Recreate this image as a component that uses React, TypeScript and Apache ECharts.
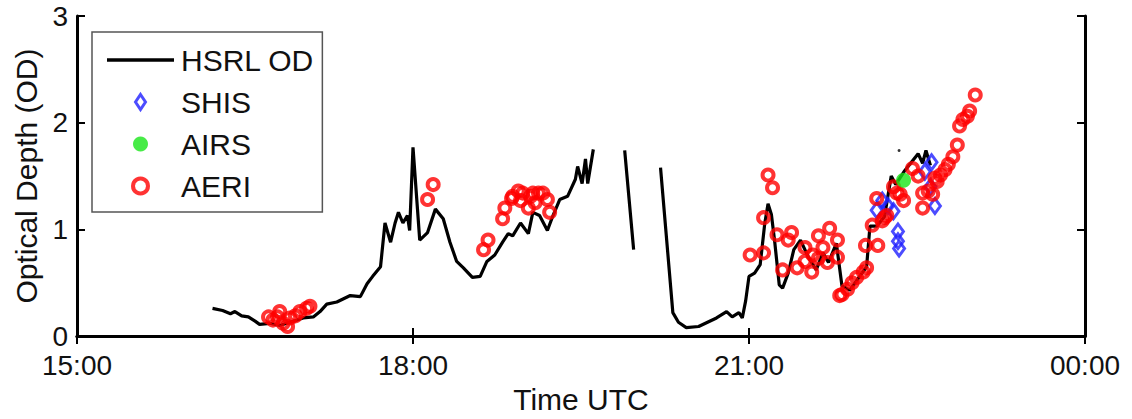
import React, { useEffect, useRef } from "react";
import * as echarts from "echarts";

// Time in decimal hours UTC, optical depth
const hsrlSeg1: [number, number][] = [
  [16.21, 0.26], [16.3, 0.24], [16.37, 0.21], [16.41, 0.23], [16.47, 0.19], [16.53, 0.18],
  [16.59, 0.14], [16.63, 0.11], [16.72, 0.12], [16.81, 0.10], [16.93, 0.14], [17.02, 0.17],
  [17.11, 0.18], [17.17, 0.23], [17.23, 0.30], [17.32, 0.32], [17.38, 0.35], [17.44, 0.38],
  [17.53, 0.37], [17.59, 0.49], [17.64, 0.56], [17.71, 0.65], [17.75, 1.06], [17.8, 0.88],
  [17.84, 1.06], [17.87, 1.16], [17.91, 1.06], [17.95, 1.13], [17.97, 0.99], [18.0, 1.77],
  [18.04, 1.19], [18.06, 0.90], [18.13, 0.97], [18.2, 1.19], [18.27, 1.10], [18.33, 0.88],
  [18.39, 0.70], [18.45, 0.64], [18.53, 0.55], [18.6, 0.56], [18.66, 0.70], [18.73, 0.76],
  [18.8, 0.88], [18.85, 0.96], [18.89, 0.94], [18.96, 1.06], [19.03, 0.96], [19.07, 1.16],
  [19.13, 1.13], [19.2, 0.99], [19.25, 1.13], [19.31, 1.28], [19.38, 1.31], [19.45, 1.47],
  [19.47, 1.59], [19.51, 1.43], [19.54, 1.66], [19.56, 1.43], [19.61, 1.75],
];
const hsrlSeg2: [number, number][] = [
  [19.89, 1.74], [19.97, 0.81],
];
const hsrlSeg3: [number, number][] = [
  [20.21, 1.58], [20.32, 0.22], [20.37, 0.13], [20.44, 0.08], [20.55, 0.09], [20.63, 0.13],
  [20.71, 0.17], [20.8, 0.23], [20.85, 0.18], [20.91, 0.22], [20.94, 0.17], [20.97, 0.33],
  [21.0, 0.56], [21.05, 0.59], [21.1, 0.67], [21.14, 1.05], [21.17, 1.24], [21.2, 1.14],
  [21.23, 0.88], [21.27, 0.48], [21.3, 0.45], [21.35, 0.59], [21.4, 0.81], [21.46, 0.90],
  [21.53, 0.74], [21.6, 0.62], [21.66, 0.78], [21.71, 0.69], [21.78, 0.87], [21.83, 0.47],
  [21.9, 0.43], [22.05, 0.65], [22.08, 1.03], [22.14, 1.03], [22.21, 1.12], [22.27, 1.50],
  [22.31, 1.42], [22.39, 1.55], [22.51, 1.71], [22.55, 1.62], [22.58, 1.74], [22.62, 1.60],
];
const hsrlDot: [number, number][] = [[22.34, 1.74]];
const shis: [number, number][] = [
  [22.14, 1.18], [22.19, 1.27], [22.24, 1.22], [22.29, 1.17], [22.33, 0.98], [22.33, 0.89],
  [22.34, 0.82], [22.57, 1.54], [22.63, 1.63], [22.66, 1.22], [22.62, 1.40],
];
const airs: [number, number][] = [[22.38, 1.46]];
const aeri: [number, number][] = [
  [16.71, 0.18], [16.75, 0.15], [16.79, 0.18], [16.81, 0.23], [16.84, 0.12], [16.88, 0.09],
  [16.9, 0.17], [16.95, 0.19], [16.99, 0.23], [17.05, 0.26], [17.08, 0.28],
  [18.13, 1.28], [18.18, 1.42],
  [18.63, 0.81], [18.67, 0.90], [18.8, 1.10], [18.82, 1.20], [18.88, 1.29], [18.89, 1.31],
  [18.94, 1.36], [18.96, 1.27], [18.98, 1.34], [19.03, 1.20], [19.05, 1.31], [19.07, 1.34],
  [19.09, 1.25], [19.12, 1.34], [19.16, 1.34], [19.2, 1.28], [19.22, 1.16],
  [21.01, 0.76], [21.13, 0.78], [21.13, 1.11], [21.17, 1.51], [21.21, 1.39], [21.25, 0.95],
  [21.3, 0.62], [21.35, 0.90], [21.38, 0.97], [21.43, 0.64], [21.5, 0.83], [21.5, 0.70],
  [21.56, 0.60], [21.57, 0.76], [21.62, 0.94], [21.62, 0.73], [21.66, 0.83], [21.7, 0.69],
  [21.72, 1.01], [21.79, 0.90], [21.79, 0.74],
  [21.81, 0.38], [21.83, 0.39], [21.88, 0.44], [21.92, 0.50], [21.96, 0.55], [22.02, 0.60],
  [22.05, 0.64], [22.04, 0.85], [22.15, 0.85], [22.1, 1.04], [22.19, 1.08], [22.21, 1.11],
  [22.14, 1.29],
  [22.23, 1.13], [22.29, 1.40], [22.32, 1.34], [22.35, 1.33], [22.38, 1.27], [22.46, 1.57],
  [22.51, 1.50], [22.55, 1.20], [22.55, 1.34], [22.6, 1.36], [22.64, 1.33], [22.66, 1.48],
  [22.68, 1.45], [22.71, 1.51], [22.75, 1.56], [22.78, 1.61], [22.82, 1.68], [22.86, 1.79],
  [22.88, 1.97], [22.91, 2.03], [22.95, 2.06], [22.97, 2.11], [23.02, 2.26],
];
const xTicks = [15, 18, 21, 24];
const yTicks = [0, 1, 2, 3];

const FONT = "'Liberation Sans', Arial, Helvetica, sans-serif";

export default function App() {
  const ref = useRef<HTMLDivElement>(null);
  useEffect(() => {
    if (!ref.current) return;
    const chart = echarts.init(ref.current, undefined, { renderer: "svg" });
    const hsrl = [...hsrlSeg1, null, ...hsrlSeg2, null, ...hsrlSeg3].map((p) =>
      p === null ? [null, null] : p
    );
    const xmin = xTicks[0];
    const xmax = xTicks[xTicks.length - 1];
    const ymin = yTicks[0];
    const ymax = yTicks[yTicks.length - 1];
    const frame = { show: true, lineStyle: { color: "#000", width: 3 } };
    const ticks = { show: true, inside: true, length: 8, lineStyle: { color: "#000", width: 2 } };
    chart.setOption({
      animation: false,
      backgroundColor: "#fff",
      textStyle: { fontFamily: FONT },
      grid: { left: 77, right: 47, top: 16, bottom: 76, containLabel: false },
      legend: {
        left: 92,
        top: 32,
        orient: "vertical",
        backgroundColor: "#fff",
        borderColor: "#555",
        borderWidth: 1.5,
        borderRadius: 0,
        padding: [13, 8, 11, 15],
        itemWidth: 67,
        itemHeight: 15,
        itemGap: 12,
        textStyle: { fontSize: 30, color: "#111", fontFamily: FONT, padding: [0, 0, 0, 2] },
        data: [
          {
            name: "HSRL OD",
            icon: "path://M0,0H67V3.5H0Z",
            itemStyle: { color: "#000", borderWidth: 0 },
          },
          {
            name: "SHIS",
            icon: "path://M5,0L10,7.5L5,15L0,7.5Z",
            itemStyle: { color: "rgba(0,0,0,0)", borderColor: "#1f1fff", borderWidth: 3 },
          },
          { name: "AIRS", icon: "circle", itemStyle: { color: "#19e619" } },
          {
            name: "AERI",
            icon: "circle",
            itemStyle: { color: "rgba(0,0,0,0)", borderColor: "#ff0000", borderWidth: 4 },
          },
        ],
      },
      xAxis: [
        {
          type: "value",
          min: xmin,
          max: xmax,
          interval: 3,
          name: "Time UTC",
          nameLocation: "middle",
          nameGap: 47,
          nameTextStyle: { fontSize: 30, color: "#111", fontFamily: FONT },
          axisLine: frame,
          axisTick: ticks,
          splitLine: { show: false },
          axisLabel: {
            fontSize: 28,
            lineHeight: 22,
            color: "#111",
            margin: 18,
            fontFamily: FONT,
            formatter: (v: number) => String(v % 24).padStart(2, "0") + ":00",
          },
        },
        {
          type: "value",
          position: "top",
          min: xmin,
          max: xmax,
          interval: 3,
          axisLine: frame,
          axisTick: ticks,
          splitLine: { show: false },
          axisLabel: { show: false },
        },
      ],
      yAxis: [
        {
          type: "value",
          min: ymin,
          max: ymax,
          interval: 1,
          name: "Optical Depth (OD)",
          nameLocation: "middle",
          nameGap: 36,
          nameTextStyle: { fontSize: 30, color: "#111", fontFamily: FONT },
          axisLine: frame,
          axisTick: ticks,
          splitLine: { show: false },
          axisLabel: { fontSize: 28, lineHeight: 22, color: "#111", margin: 9, fontFamily: FONT },
        },
        {
          type: "value",
          position: "right",
          min: ymin,
          max: ymax,
          interval: 1,
          axisLine: frame,
          axisTick: ticks,
          splitLine: { show: false },
          axisLabel: { show: false },
        },
      ],
      series: [
        {
          name: "HSRL OD",
          type: "line",
          data: hsrl,
          connectNulls: false,
          symbol: "none",
          showSymbol: false,
          lineStyle: { color: "#000", width: 3.2 },
          itemStyle: { color: "#000" },
          z: 2,
        },
        {
          name: "HSRL dot",
          type: "scatter",
          data: hsrlDot,
          symbol: "circle",
          symbolSize: 3,
          itemStyle: { color: "#000" },
          z: 2,
        },
        {
          name: "SHIS",
          type: "scatter",
          data: shis,
          symbol: "diamond",
          symbolSize: [11, 15],
          itemStyle: { color: "rgba(0,0,0,0)", borderColor: "#1f1fff", borderWidth: 3 },
          z: 3,
        },
        {
          name: "AERI",
          type: "scatter",
          data: aeri,
          symbol: "circle",
          symbolSize: 11,
          itemStyle: { color: "rgba(0,0,0,0)", borderColor: "#ff0000", borderWidth: 4 },
          z: 4,
        },
        {
          name: "AIRS",
          type: "scatter",
          data: airs,
          symbol: "circle",
          symbolSize: 15,
          itemStyle: { color: "#19e619" },
          z: 5,
        },
      ],
    });
    return () => chart.dispose();
  }, []);
  return (
    <div
      ref={ref}
      style={{ position: "fixed", left: 0, top: 0, width: 1132, height: 419, background: "#fff" }}
    />
  );
}
